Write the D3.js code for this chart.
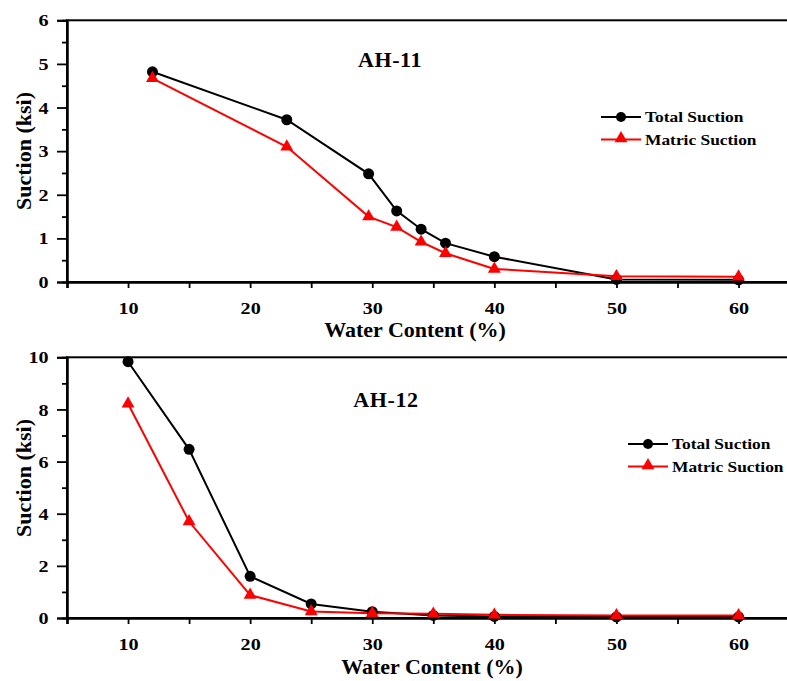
<!DOCTYPE html>
<html>
<head>
<meta charset="utf-8">
<script src="https://cdn.jsdelivr.net/npm/d3@7/dist/d3.min.js"></script>
<style>
  html, body { margin: 0; padding: 0; background: #fff; }
  svg { display: block; }
  text { font-family: "Liberation Serif", "Times New Roman", serif; font-weight: bold; fill: #000; }
</style>
</head>
<body>
<svg id="chart" width="787" height="681"></svg>
<script>
// ---- data ----
const seriesNames = ["Total Suction", "Matric Suction"];
const xTicks = [10, 20, 30, 40, 50, 60];
const xMinorTicks = [5, 15, 25, 35, 45, 55, 65];

const waterAH11 = [12, 23, 29.7, 32, 34, 36, 40, 50, 60];
const totalAH11 = [4.82, 3.72, 2.48, 1.63, 1.21, 0.89, 0.58, 0.06, 0.05];
const matricAH11 = [4.67, 3.10, 1.50, 1.26, 0.92, 0.66, 0.30, 0.13, 0.12];
const yTicksAH11 = [0, 1, 2, 3, 4, 5, 6];
const yMinorAH11 = [0.5, 1.5, 2.5, 3.5, 4.5, 5.5];

const waterAH12 = [10, 15, 20, 25, 30, 35, 40, 50, 60];
const totalAH12 = [9.83, 6.47, 1.60, 0.54, 0.24, 0.10, 0.06, 0.04, 0.04];
const matricAH12 = [8.22, 3.70, 0.88, 0.25, 0.18, 0.16, 0.12, 0.10, 0.10];
const yTicksAH12 = [0, 2, 4, 6, 8, 10];
const yMinorAH12 = [1, 3, 5, 7, 9];

const panels = [
  { title: "AH-11", water: waterAH11, total: totalAH11, matric: matricAH11,
    yMax: 6, yTicks: yTicksAH11, yMinor: yMinorAH11,
    top: 20.3, bottom: 282, titleX: 390, titleY: 67,
    legX: 601, legY: 117, xLabelX: 415, xLabelY: 337, yLabelY: 151 },
  { title: "AH-12", water: waterAH12, total: totalAH12, matric: matricAH12,
    yMax: 10, yTicks: yTicksAH12, yMinor: yMinorAH12,
    top: 357.3, bottom: 618, titleX: 386, titleY: 407,
    legX: 628, legY: 444, xLabelX: 432, xLabelY: 674, yLabelY: 478 }
];

const svg = d3.select("#chart");
const left = 67, right = 67 + 60 * 12.21;
const colors = ["#000000", "#ff0000"];
const stretch = 1.15;

panels.forEach(p => {
  const x = d3.scaleLinear().domain([5, 65]).range([left, right]);
  const y = d3.scaleLinear().domain([0, p.yMax]).range([p.bottom, p.top]);
  const g = svg.append("g");

  // frame
  g.append("rect").attr("x", left).attr("y", p.top)
    .attr("width", right - left).attr("height", p.bottom - p.top)
    .attr("fill", "none").attr("stroke", "#000").attr("stroke-width", 2);

  // x axis
  const xa = g.append("g").attr("class", "ax").attr("transform", `translate(0,${p.bottom})`)
    .call(d3.axisBottom(x).tickValues(xTicks).tickSize(6).tickPadding(14).tickFormat(d3.format("d")));
  g.append("g").attr("class", "ax").attr("transform", `translate(0,${p.bottom})`)
    .call(d3.axisBottom(x).tickValues(xMinorTicks).tickSize(6).tickFormat(""));
  // y axis
  const ya = g.append("g").attr("class", "ax").attr("transform", `translate(${left},0)`)
    .call(d3.axisLeft(y).tickValues(p.yTicks).tickSize(10).tickPadding(8).tickFormat(d3.format("d")));
  g.append("g").attr("class", "ax").attr("transform", `translate(${left},0)`)
    .call(d3.axisLeft(y).tickValues(p.yMinor).tickSize(5).tickFormat(""));

  g.selectAll(".ax").attr("font-size", null).attr("font-family", null);
  g.selectAll(".domain").attr("stroke", "#000").attr("stroke-width", 2);
  g.selectAll(".tick line").attr("stroke", "#000").attr("stroke-width", 1.8);
  g.selectAll(".tick text").attr("font-size", 17.5).attr("font-weight", "bold")
    .attr("font-family", "'Liberation Serif', serif");
  xa.selectAll(".tick text").attr("transform", `scale(${stretch},1)`);
  ya.selectAll(".tick text").attr("x", -18.5 / stretch).attr("transform", `scale(${stretch},1)`);

  // lines
  const line = d3.line().x(d => x(d[0])).y(d => y(d[1]));
  const totalPts = p.water.map((w, i) => [w, p.total[i]]);
  const matricPts = p.water.map((w, i) => [w, p.matric[i]]);

  g.append("path").datum(totalPts).attr("d", line)
    .attr("fill", "none").attr("stroke", colors[0]).attr("stroke-width", 2);
  g.append("path").datum(matricPts).attr("d", line)
    .attr("fill", "none").attr("stroke", colors[1]).attr("stroke-width", 2);

  const tri = d3.symbol().type(d3.symbolTriangle).size(72);
  g.selectAll(".circ").data(totalPts).enter().append("circle")
    .attr("cx", d => x(d[0])).attr("cy", d => y(d[1])).attr("r", 5.5).attr("fill", colors[0]);
  g.selectAll(".tri").data(matricPts).enter().append("path")
    .attr("d", tri).attr("transform", d => `translate(${x(d[0])},${y(d[1])})`).attr("fill", colors[1]);

  // title
  g.append("text").attr("x", p.titleX).attr("y", p.titleY).attr("text-anchor", "middle")
    .style("font-size", "22px").style("letter-spacing", "0.6px").text(p.title);

  // legend
  seriesNames.forEach((name, i) => {
    const ly = p.legY + i * 22.5;
    g.append("line").attr("x1", p.legX).attr("x2", p.legX + 40).attr("y1", ly).attr("y2", ly)
      .attr("stroke", colors[i]).attr("stroke-width", 2);
    if (i === 0) {
      g.append("circle").attr("cx", p.legX + 20).attr("cy", ly).attr("r", 5).attr("fill", colors[i]);
    } else {
      g.append("path").attr("d", tri).attr("transform", `translate(${p.legX + 20},${ly - 1})`).attr("fill", colors[i]);
    }
    g.append("text").attr("transform", `translate(${p.legX + 44},${ly + 5}) scale(1.2,1)`)
      .style("font-size", "14.5px").text(name);
  });

  // axis labels
  g.append("text").attr("x", p.xLabelX).attr("y", p.xLabelY).attr("text-anchor", "middle")
    .style("font-size", "22px").text("Water Content (%)");
  g.append("text").attr("transform", `translate(31,${p.yLabelY}) rotate(-90)`)
    .attr("text-anchor", "middle").style("font-size", "22px").text("Suction (ksi)");
});
</script>
</body>
</html>
